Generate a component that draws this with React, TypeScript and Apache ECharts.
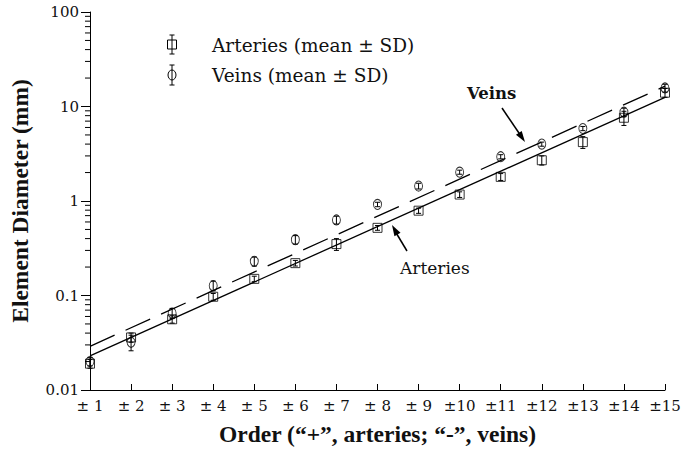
import React, { useEffect, useRef } from "react";
import * as echarts from "echarts";

const orders = [1, 2, 3, 4, 5, 6, 7, 8, 9, 10, 11, 12, 13, 14, 15];
const arteriesMean = [0.019, 0.036, 0.056, 0.097, 0.15, 0.22, 0.35, 0.52, 0.79, 1.17, 1.8, 2.7, 4.2, 7.6, 14.0];
const arteriesSD = [0.002, 0.004, 0.005, 0.008, 0.01, 0.015, 0.05, 0.03, 0.05, 0.08, 0.15, 0.3, 0.6, 1.3, 1.5];
const veinsMean = [0.02, 0.032, 0.065, 0.127, 0.23, 0.39, 0.63, 0.92, 1.44, 2.02, 2.94, 4.0, 5.85, 8.7, 15.7];
const veinsSD = [0.002, 0.006, 0.008, 0.015, 0.025, 0.04, 0.06, 0.05, 0.1, 0.1, 0.15, 0.2, 0.3, 0.9, 1.5];
const arteriesFit = [[1, 0.023], [15, 12.5]];
const veinsFit = [[1, 0.029], [15, 16.4]];
const yTickValues = [0.01, 0.1, 1, 10, 100];
const minorTickValues = [0.02, 0.03, 0.04, 0.05, 0.06, 0.07, 0.08, 0.09, 0.2, 0.3, 0.4, 0.5, 0.6, 0.7, 0.8, 0.9, 2, 3, 4, 5, 6, 7, 8, 9, 20, 30, 40, 50, 60, 70, 80, 90];

const SERIF = "'DejaVu Serif', serif";
const TIMES = "'Liberation Serif', serif";

function arrowHead(tx: number, ty: number, fx: number, fy: number, len = 11, half = 3.5) {
  const dx = tx - fx, dy = ty - fy;
  const l = Math.sqrt(dx * dx + dy * dy);
  const ux = dx / l, uy = dy / l;
  const bx = tx - ux * len, by = ty - uy * len;
  const px = -uy, py = ux;
  return [[tx, ty], [bx + px * half, by + py * half], [bx - px * half, by - py * half]];
}

function errorBarItem(params: any, api: any) {
  const x = api.value(0);
  const lo = api.coord([x, api.value(1)]);
  const hi = api.coord([x, api.value(2)]);
  const st = { stroke: "#000", lineWidth: 1 };
  return {
    type: "group",
    children: [
      { type: "line", shape: { x1: lo[0], y1: lo[1], x2: hi[0], y2: hi[1] }, style: st },
      { type: "line", shape: { x1: lo[0] - 2.5, y1: lo[1], x2: lo[0] + 2.5, y2: lo[1] }, style: st },
      { type: "line", shape: { x1: hi[0] - 2.5, y1: hi[1], x2: hi[0] + 2.5, y2: hi[1] }, style: st },
    ],
  };
}

export default function App() {
  const ref = useRef<HTMLDivElement>(null);
  useEffect(() => {
    const chart = echarts.init(ref.current!, null, { renderer: "svg" });
    const legendStyle = { stroke: "#000", lineWidth: 1, fill: "none" };
    const option: any = {
      animation: false,
      backgroundColor: "#fff",
      grid: { left: 78, right: 21, top: 12, bottom: 58 },
      xAxis: {
        type: "value",
        min: 1,
        max: 15,
        interval: 1,
        name: "Order (“+”, arteries; “-”, veins)",
        nameLocation: "middle",
        nameGap: 32,
        nameTextStyle: { fontFamily: TIMES, fontWeight: "bold", fontSize: 23.5, color: "#111" },
        axisLine: { lineStyle: { color: "#000", width: 1 } },
        axisTick: { inside: true, length: 6, lineStyle: { color: "#000" } },
        splitLine: { show: false },
        axisLabel: {
          margin: 8,
          fontFamily: SERIF,
          fontSize: 15,
          color: "#111",
          formatter: (v: number) => (v < 10 ? "± " + v : "±" + v),
        },
      },
      yAxis: {
        type: "log",
        logBase: 10,
        min: 0.01,
        max: 100,
        name: "Element Diameter (mm)",
        nameLocation: "middle",
        nameGap: 58,
        nameTextStyle: { fontFamily: TIMES, fontWeight: "bold", fontSize: 23.5, color: "#111" },
        axisLine: { show: true, lineStyle: { color: "#000", width: 1 } },
        axisTick: { show: true, inside: false, length: 9, lineStyle: { color: "#000" } },
        splitLine: { show: false },
        minorTick: { show: false },
        axisLabel: {
          margin: 11,
          fontFamily: SERIF,
          fontSize: 15,
          color: "#111",
          formatter: (v: number) => {
            const t = yTickValues.find((x) => Math.abs(x - v) / x < 1e-6);
            return t === undefined ? "" : String(t);
          },
        },
      },
      series: [
        {
          type: "custom",
          name: "minorTicks",
          silent: true,
          clip: false,
          data: minorTickValues.map((v) => [1, v]),
          renderItem: (params: any, api: any) => {
            const p = api.coord([1, api.value(1)]);
            return {
              type: "line",
              shape: { x1: p[0] - 5, y1: p[1], x2: p[0], y2: p[1] },
              style: { stroke: "#000", lineWidth: 1 },
            };
          },
        },
        {
          type: "line",
          name: "Arteries fit",
          data: arteriesFit,
          symbol: "none",
          lineStyle: { color: "#000", width: 1.3, type: "solid" },
          silent: true,
        },
        {
          type: "line",
          name: "Veins fit",
          data: veinsFit,
          symbol: "none",
          lineStyle: { color: "#000", width: 1.3, type: [27, 12] },
          silent: true,
        },
        {
          type: "custom",
          name: "Arteries SD",
          clip: false,
          data: orders.map((o, i) => [o, arteriesMean[i] - arteriesSD[i], arteriesMean[i] + arteriesSD[i]]),
          encode: { x: 0, y: [1, 2] },
          renderItem: errorBarItem,
        },
        {
          type: "custom",
          name: "Veins SD",
          clip: false,
          data: orders.map((o, i) => [o, veinsMean[i] - veinsSD[i], veinsMean[i] + veinsSD[i]]),
          encode: { x: 0, y: [1, 2] },
          renderItem: errorBarItem,
        },
        {
          type: "scatter",
          name: "Arteries (mean ± SD)",
          data: orders.map((o, i) => [o, arteriesMean[i]]),
          symbol: "rect",
          symbolSize: [9, 9],
          itemStyle: { color: "none", borderColor: "#000", borderWidth: 1 },
          clip: false,
        },
        {
          type: "scatter",
          name: "Veins (mean ± SD)",
          data: orders.map((o, i) => [o, veinsMean[i]]),
          symbol: "circle",
          symbolSize: [8, 10],
          itemStyle: { color: "none", borderColor: "#000", borderWidth: 1 },
          clip: false,
        },
      ],
      graphic: [
        { type: "line", shape: { x1: 172, y1: 35, x2: 172, y2: 54 }, style: legendStyle },
        { type: "line", shape: { x1: 169.5, y1: 35, x2: 174.5, y2: 35 }, style: legendStyle },
        { type: "line", shape: { x1: 169.5, y1: 54, x2: 174.5, y2: 54 }, style: legendStyle },
        { type: "rect", shape: { x: 167.5, y: 40, width: 9, height: 9 }, style: legendStyle },
        {
          type: "text",
          x: 212,
          y: 45,
          style: { text: "Arteries (mean ± SD)", font: "18.5px 'DejaVu Serif', serif", fill: "#111", verticalAlign: "middle" },
        },
        { type: "line", shape: { x1: 172, y1: 65, x2: 172, y2: 85 }, style: legendStyle },
        { type: "line", shape: { x1: 169.5, y1: 65, x2: 174.5, y2: 65 }, style: legendStyle },
        { type: "line", shape: { x1: 169.5, y1: 85, x2: 174.5, y2: 85 }, style: legendStyle },
        { type: "ellipse", shape: { cx: 172, cy: 75, rx: 4, ry: 5 }, style: legendStyle },
        {
          type: "text",
          x: 212,
          y: 75,
          style: { text: "Veins (mean ± SD)", font: "18.5px 'DejaVu Serif', serif", fill: "#111", verticalAlign: "middle" },
        },
        {
          type: "text",
          x: 467,
          y: 93,
          style: { text: "Veins", font: "bold 16.5px 'DejaVu Serif', serif", fill: "#111", verticalAlign: "middle" },
        },
        { type: "line", shape: { x1: 502, y1: 108, x2: 521, y2: 136 }, style: { stroke: "#000", lineWidth: 1.5 } },
        { type: "polygon", shape: { points: arrowHead(525, 142, 502, 108) }, style: { fill: "#000" } },
        {
          type: "text",
          x: 400,
          y: 268,
          style: { text: "Arteries", font: "17px 'DejaVu Serif', serif", fill: "#111", verticalAlign: "middle" },
        },
        { type: "line", shape: { x1: 407, y1: 251, x2: 395, y2: 231 }, style: { stroke: "#000", lineWidth: 1.5 } },
        { type: "polygon", shape: { points: arrowHead(392, 225, 407, 251) }, style: { fill: "#000" } },
      ],
    };
    chart.setOption(option);
    return () => chart.dispose();
  }, []);
  return (
    <div style={{ position: "absolute", left: 0, top: 0 }}>
      <div ref={ref} style={{ width: 686, height: 451 }} />
    </div>
  );
}
